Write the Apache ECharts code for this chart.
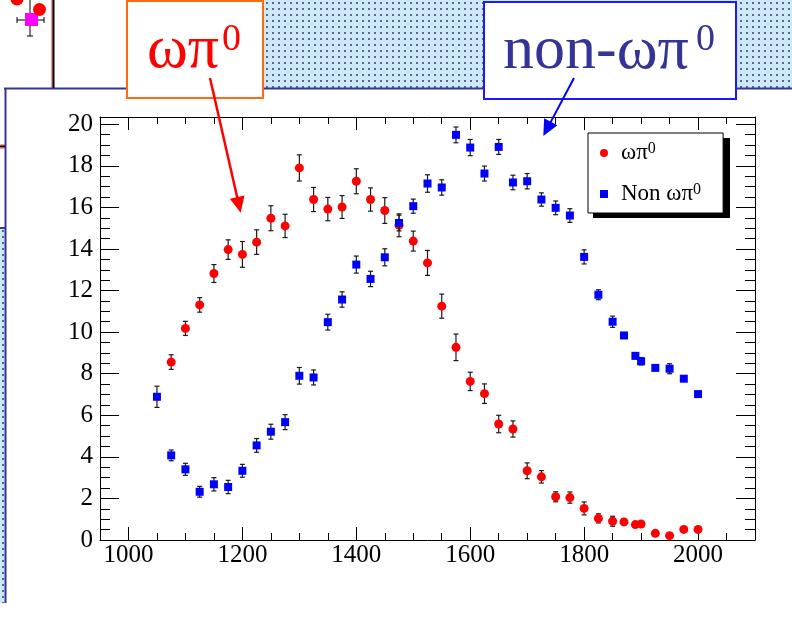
<!DOCTYPE html>
<html>
<head>
<meta charset="utf-8">
<script src="https://cdn.jsdelivr.net/npm/echarts@6/dist/echarts.min.js"></script>
<style>
html,body{margin:0;padding:0;background:#fff;}
#chart{width:792px;height:625px;}
</style>
</head>
<body>
<div id="chart"></div>
<script>
// ---- data ----
var omegaX = [1075,1100,1125,1150,1175,1200,1225,1250,1275,1300,1325,1350,1375,1400,1425,1450,1475,1500,1525,1550,1575,1600,1625,1650,1675,1700,1725,1750,1775,1800,1825,1850,1870,1890,1900,1925,1950,1975,2000];
var omegaY = [8.56,10.18,11.31,12.82,13.97,13.74,14.33,15.48,15.11,17.9,16.38,15.92,16.02,17.26,16.38,15.85,15.14,14.38,13.33,11.25,9.27,7.63,7.04,5.58,5.34,3.33,3.04,2.08,2.04,1.52,1.04,0.9,0.87,0.74,0.77,0.32,0.21,0.51,0.51];
var omegaErr = [0.35,0.34,0.35,0.43,0.47,0.62,0.59,0.6,0.56,0.63,0.58,0.56,0.55,0.6,0.56,0.62,0.55,0.48,0.6,0.58,0.64,0.44,0.47,0.42,0.39,0.38,0.3,0.24,0.27,0.31,0.22,0.24,0.15,0.12,0.12,0.1,0.1,0.1,0.1];

var nonX = [1050,1075,1100,1125,1150,1175,1200,1225,1250,1275,1300,1325,1350,1375,1400,1425,1450,1475,1500,1525,1550,1575,1600,1625,1650,1675,1700,1725,1750,1775,1800,1825,1850,1870,1890,1900,1925,1950,1975,2000];
var nonY = [6.89,4.07,3.4,2.32,2.68,2.55,3.33,4.55,5.21,5.67,7.9,7.82,10.48,11.57,13.25,12.56,13.6,15.25,16.06,17.15,16.96,19.49,18.88,17.63,18.91,17.2,17.26,16.38,15.98,15.61,13.62,11.8,10.5,9.84,8.86,8.6,8.28,8.24,7.76,7.02];
var nonErr = [0.51,0.26,0.29,0.26,0.32,0.32,0.31,0.33,0.36,0.36,0.4,0.36,0.38,0.37,0.41,0.37,0.41,0.38,0.34,0.42,0.37,0.38,0.39,0.36,0.36,0.35,0.37,0.32,0.33,0.33,0.34,0.24,0.27,0.1,0.15,0.18,0.1,0.24,0.1,0.1];

var xTickLabels = [1000,1200,1400,1600,1800,2000];
var yTickLabels = [0,2,4,6,8,10,12,14,16,18,20];
var xMinorTicks = [950,1000,1050,1100,1150,1200,1250,1300,1350,1400,1450,1500,1550,1600,1650,1700,1750,1800,1850,1900,1950,2000,2050,2100];
var yMinorTicks = [];
for (var k = 0; k <= 40; k++) yMinorTicks.push(k * 0.5);

var seriesNames = ['omega', 'nonomega'];
var legendLabels = {omega: 'ωπ{sup|0}', nonomega: 'Non ωπ{sup|0}'};

// ---- build ----
var SERIF = '"Liberation Serif", "Times New Roman", serif';
function pts(xs, ys){ return xs.map(function(x,i){ return [x, ys[i]]; }); }
function errs(xs, ys, es){ return xs.map(function(x,i){ return [x, ys[i], es[i]]; }); }

function errRender(params, api){
  var x = api.value(0), y = api.value(1), e = api.value(2);
  var t = api.coord([x, y + e]), b = api.coord([x, y - e]);
  var w = 2.5, st = {stroke:'#1a1a1a', lineWidth:1.2};
  return {type:'group', children:[
    {type:'line', shape:{x1:t[0], y1:t[1], x2:b[0], y2:b[1]}, style:st},
    {type:'line', shape:{x1:t[0]-w, y1:t[1], x2:t[0]+w, y2:t[1]}, style:st},
    {type:'line', shape:{x1:b[0]-w, y1:b[1], x2:b[0]+w, y2:b[1]}, style:st}
  ]};
}

function plain(v){ return String(v); }

function xAx(pos, major){
  return {type:'value', min:950, max:2100, position:pos,
    axisLine:{show:major, onZero:false, lineStyle:{color:'#000', width:1}},
    axisTick:{show:true, inside:true, length: major?13:7, customValues: major?xTickLabels:xMinorTicks, lineStyle:{color:'#000', width:1}},
    axisLabel:{show: major && pos==='bottom', customValues:xTickLabels, formatter:plain, fontFamily:SERIF, fontSize:25, color:'#000', margin:3},
    splitLine:{show:false}};
}
function yAx(pos, major){
  return {type:'value', min:0, max:20.35, position:pos,
    axisLine:{show:major, onZero:false, lineStyle:{color:'#000', width:1}},
    axisTick:{show:true, inside:true, length: major?19:10, customValues: major?yTickLabels:yMinorTicks, lineStyle:{color:'#000', width:1}},
    axisLabel:{show: major && pos==='left', customValues:yTickLabels, formatter:plain, fontFamily:SERIF, fontSize:25, color:'#000', margin:7},
    splitLine:{show:false}};
}

// dotted pattern
var pc = document.createElement('canvas');
pc.width = 6; pc.height = 6;
var pctx = pc.getContext('2d');
pctx.fillStyle = '#cde8fb'; pctx.fillRect(0,0,6,6);
pctx.fillStyle = '#5d6b79'; pctx.fillRect(2,2,2,2);
var pattern = {image: pc, repeat: 'repeat'};

function arrow(x0, y0, x1, y1, color, lw){
  var dx = x1-x0, dy = y1-y0, L = Math.sqrt(dx*dx+dy*dy);
  var ux = dx/L, uy = dy/L, hl = 16, hw = 7.5;
  var bx = x1 - ux*hl, by = y1 - uy*hl;
  return [
    {type:'line', z:100, shape:{x1:x0, y1:y0, x2:bx+ux*2, y2:by+uy*2}, style:{stroke:color, lineWidth:lw}},
    {type:'polygon', z:100, shape:{points:[[x1,y1],[bx+uy*hw, by-ux*hw],[bx-uy*hw, by+ux*hw]]}, style:{fill:color}}
  ];
}

var graphics = [
  // dotted background areas
  {type:'rect', z:0, shape:{x:200, y:0, width:600, height:88}, style:{fill:pattern}},
  {type:'rect', z:0, shape:{x:0, y:228, width:5, height:375}, style:{fill:pattern}},
  // panel borders
  {type:'line', z:1, shape:{x1:4, y1:88.5, x2:792, y2:88.5}, style:{stroke:'#34349a', lineWidth:2}},
  {type:'line', z:1, shape:{x1:5.5, y1:88, x2:5.5, y2:603}, style:{stroke:'#34349a', lineWidth:2}},
  {type:'line', z:1, shape:{x1:0, y1:228, x2:5, y2:228}, style:{stroke:'#34349a', lineWidth:2}},
  // small red/black tick at left
  {type:'line', z:1, shape:{x1:0, y1:145, x2:5, y2:145}, style:{stroke:'#ff4040', lineWidth:1}},
  {type:'line', z:1, shape:{x1:0, y1:146.5, x2:5, y2:146.5}, style:{stroke:'#000', lineWidth:2}},
  {type:'line', z:1, shape:{x1:0, y1:148, x2:5, y2:148}, style:{stroke:'#ff4040', lineWidth:1}},
  // fragment of another plot top-left
  {type:'line', z:1, shape:{x1:52, y1:0, x2:52, y2:88}, style:{stroke:'#ff2020', lineWidth:1}},
  {type:'line', z:1, shape:{x1:53.5, y1:0, x2:53.5, y2:88}, style:{stroke:'#000', lineWidth:2}},
  {type:'line', z:1, shape:{x1:30, y1:0, x2:30, y2:36}, style:{stroke:'#000', lineWidth:1}},
  {type:'line', z:1, shape:{x1:27, y1:36, x2:33, y2:36}, style:{stroke:'#000', lineWidth:1}},
  {type:'line', z:1, shape:{x1:17, y1:20, x2:44, y2:20}, style:{stroke:'#000', lineWidth:1}},
  {type:'line', z:1, shape:{x1:17, y1:17, x2:17, y2:23}, style:{stroke:'#000', lineWidth:1}},
  {type:'line', z:1, shape:{x1:44, y1:17, x2:44, y2:23}, style:{stroke:'#000', lineWidth:1}},
  {type:'rect', z:2, shape:{x:25, y:13, width:13, height:13}, style:{fill:'#ff00ff'}},
  {type:'circle', z:2, shape:{cx:17, cy:-1, r:6.5}, style:{fill:'#ff0000'}},
  {type:'circle', z:2, shape:{cx:39.5, cy:9.5, r:6.5}, style:{fill:'#ff0000'}},
  // legend shadow
  {type:'rect', z:0, shape:{x:593, y:138, width:137, height:80}, style:{fill:'#000'}},
  // orange box
  {type:'rect', z:5, shape:{x:127, y:1, width:136, height:97}, style:{fill:'#fff', stroke:'#ff6a12', lineWidth:2}},
  {type:'text', z:6, x:147, y:20, style:{text:'ωπ', font:'62px "Liberation Serif"', fill:'#ff0000', textAlign:'left', textVerticalAlign:'top'}},
  {type:'text', z:6, x:222, y:21, style:{text:'0', font:'38px "Liberation Serif"', fill:'#ff0000', textAlign:'left', textVerticalAlign:'top'}},
  // blue box
  {type:'rect', z:5, shape:{x:484, y:2, width:252, height:97}, style:{fill:'#fff', stroke:'#1a1aff', lineWidth:2}},
  {type:'text', z:6, x:503, y:21, style:{text:'non-ωπ', font:'62px "Liberation Serif"', fill:'#333399', textAlign:'left', textVerticalAlign:'top'}},
  {type:'text', z:6, x:696, y:21, style:{text:'0', font:'38px "Liberation Serif"', fill:'#333399', textAlign:'left', textVerticalAlign:'top'}}
].concat(arrow(210, 78, 240.7, 212.7, '#ff0000', 2.5), arrow(574, 78, 543.3, 136, '#0000ff', 2));

var option = {
  animation: false,
  backgroundColor: '#ffffff',
  grid: {left:100, top:117, width:655, height:423, containLabel:false, outerBoundsMode:'none'},
  xAxis: [xAx('bottom', true), xAx('bottom', false), xAx('top', true), xAx('top', false)],
  yAxis: [yAx('left', true), yAx('left', false), yAx('right', true), yAx('right', false)],
  legend: {
    data: [{name:'omega', icon:'circle'}, {name:'nonomega', icon:'rect'}],
    orient: 'vertical', left: 588, top: 133, z: 10,
    padding: [8, 22, 7, 12], itemGap: 17, itemWidth: 8, itemHeight: 8,
    backgroundColor: '#fff', borderColor: '#000', borderWidth: 1,
    formatter: function(n){ return legendLabels[n]; },
    textStyle: {fontFamily: SERIF, fontSize: 23, lineHeight: 24, color: '#000', padding: [0,0,0,8],
      rich: {sup: {fontFamily: SERIF, fontSize: 16, lineHeight: 16, verticalAlign: 'top', color: '#000'}}}
  },
  graphic: graphics,
  series: [
    {name:'omegaErr', type:'custom', renderItem: errRender, data: errs(omegaX, omegaY, omegaErr), encode:{x:0, y:1}, z:3, silent:true},
    {name:seriesNames[0], type:'scatter', data: pts(omegaX, omegaY), symbol:'circle', symbolSize:9, itemStyle:{color:'#ff0000', opacity:1}, z:4},
    {name:'nonErr', type:'custom', renderItem: errRender, data: errs(nonX, nonY, nonErr), encode:{x:0, y:1}, z:5, silent:true},
    {name:seriesNames[1], type:'scatter', data: pts(nonX, nonY), symbol:'rect', symbolSize:8, itemStyle:{color:'#0000ff', opacity:1}, z:6}
  ]
};
var chart = echarts.init(document.getElementById('chart'), null, {renderer:'canvas'});
chart.setOption(option);
</script>
</body>
</html>
